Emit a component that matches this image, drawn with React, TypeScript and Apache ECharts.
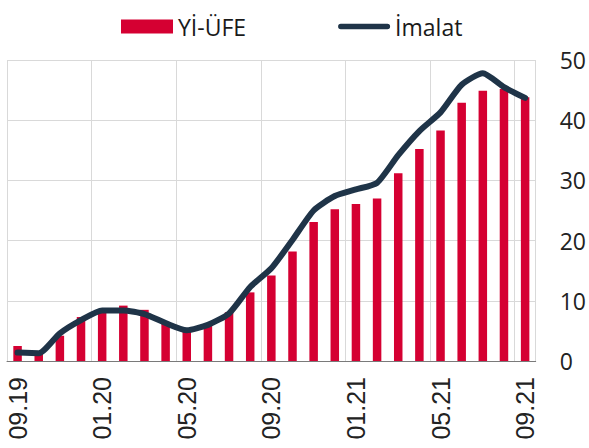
import React, { useEffect, useRef } from "react";
import * as echarts from "echarts";

const categories = [
  "09.19", "10.19", "11.19", "12.19", "01.20", "02.20", "03.20", "04.20", "05.20",
  "06.20", "07.20", "08.20", "09.20", "10.20", "11.20", "12.20", "01.21", "02.21",
  "03.21", "04.21", "05.21", "06.21", "07.21", "08.21", "09.21",
];
const yiUfe = [
  2.5, 1.3, 4.2, 7.3, 8.6, 9.2, 8.5, 6.5, 5.0, 6.0, 8.1, 11.4, 14.2, 18.2,
  23.1, 25.2, 26.1, 27.0, 31.2, 35.2, 38.3, 42.9, 44.9, 45.2, 43.8,
];
const imalat = [
  1.4, 1.3, 4.6, 6.8, 8.4, 8.4, 7.8, 6.3, 5.1, 6.0, 7.9, 12.3, 15.4, 20.1,
  25.0, 27.4, 28.5, 29.6, 34.2, 38.2, 41.3, 45.9, 47.8, 45.5, 43.7,
];
const yTicks = { min: 0, max: 50, interval: 10 };

const lineIcon = "path://M3,0 L55,0 A3,3 0 0 1 55,6 L3,6 A3,3 0 0 1 3,0 Z";

export default function App() {
  const ref = useRef<HTMLDivElement>(null);
  useEffect(() => {
    document.body.style.margin = "0";
    const chart = echarts.init(ref.current!, undefined, { renderer: "svg" });
    chart.setOption({
      animation: false,
      backgroundColor: "#ffffff",
      legend: {
        left: 116,
        top: 10,
        itemWidth: 52,
        itemHeight: 14,
        itemGap: 92,
        symbolKeepAspect: true,
        textStyle: { fontFamily: "Open Sans", fontSize: 23, color: "#1a1a1a" },
        data: [
          { name: "Yİ-ÜFE", icon: "rect" },
          { name: "İmalat", icon: lineIcon, itemStyle: { color: "#1f3448" } },
        ],
      },
      grid: { left: 7, right: 52, top: 60, bottom: 87, containLabel: false },
      xAxis: {
        type: "category",
        data: categories,
        boundaryGap: true,
        axisLine: { show: true, lineStyle: { color: "#7a7a7a", width: 1 } },
        axisTick: { show: false },
        axisLabel: {
          interval: 3,
          rotate: 90,
          margin: 16,
          fontFamily: "Liberation Sans",
          fontSize: 25,
          color: "#222222",
        },
        splitLine: { show: true, interval: 3, lineStyle: { color: "#d9d9d9", width: 1 } },
      },
      yAxis: {
        type: "value",
        position: "right",
        min: yTicks.min,
        max: yTicks.max,
        interval: yTicks.interval,
        axisLine: { show: false },
        axisTick: { show: false },
        axisLabel: {
          margin: 24,
          fontFamily: "Open Sans",
          fontSize: 23,
          color: "#222222",
        },
        splitLine: { lineStyle: { color: "#d9d9d9", width: 1 } },
      },
      series: [
        {
          name: "Yİ-ÜFE",
          type: "bar",
          data: yiUfe,
          barWidth: 8.5,
          itemStyle: { color: "#d50032" },
          z: 2,
        },
        {
          name: "İmalat",
          type: "line",
          data: imalat,
          smooth: 0.2,
          symbol: "none",
          showSymbol: false,
          lineStyle: { color: "#1f3448", width: 6, cap: "round", join: "round" },
          itemStyle: { color: "#1f3448" },
          z: 3,
        },
      ],
    });
    return () => chart.dispose();
  }, []);
  return <div ref={ref} style={{ width: 589, height: 448 }} />;
}
